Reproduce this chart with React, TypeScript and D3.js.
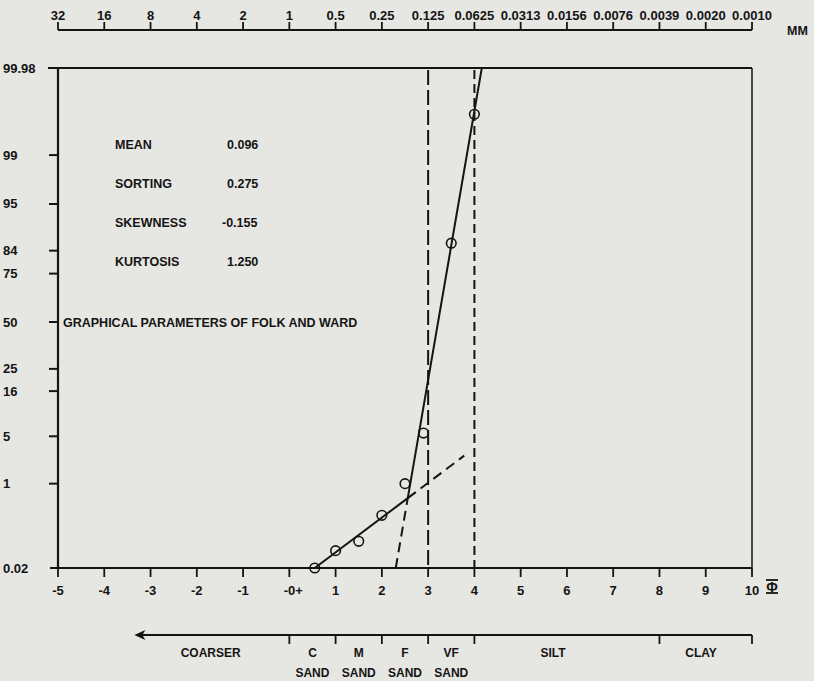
import React from 'react';
import * as d3 from 'd3';

// phi scale (bottom) and matching grain size in mm (top)
const phiTicks = [-5, -4, -3, -2, -1, 0, 1, 2, 3, 4, 5, 6, 7, 8, 9, 10];
const phiLabels = ['-5', '-4', '-3', '-2', '-1', '-0+', '1', '2', '3', '4', '5', '6', '7', '8', '9', '10'];
const mmLabels = ['32', '16', '8', '4', '2', '1', '0.5', '0.25', '0.125', '0.0625', '0.0313', '0.0156', '0.0076', '0.0039', '0.0020', '0.0010'];

// cumulative percent (probability scale)
const pctTicks = [0.02, 1, 5, 16, 25, 50, 75, 84, 95, 99, 99.98];
const pctLabels = ['0.02', '1', '5', '16', '25', '50', '75', '84', '95', '99', '99.98'];

// sample points
const samplePhi = [0.55, 1, 1.5, 2, 2.5, 2.9, 3.5, 4];
const samplePct = [0.02, 0.05, 0.08, 0.27, 1.0, 5.5, 86.4, 99.81];

// fitted lines (end points, phi / percent)
const fineLinePhi = [2.3, 4.16];
const fineLinePct = [0.02, 99.98];
const coarseLinePhi = [0.55, 3.78];
const coarseLinePct = [0.02, 2.72];

// dashed guide lines at phi
const guidePhi = [3, 4];

const statNames = ['MEAN', 'SORTING', 'SKEWNESS', 'KURTOSIS'];
const statValues = ['0.096', '0.275', '-0.155', '1.250'];

const classNames = ['COARSER', 'C', 'M', 'F', 'VF', 'SILT', 'CLAY'];
const classSub = ['', 'SAND', 'SAND', 'SAND', 'SAND', '', ''];
const classCenters = [-1.7, 0.5, 1.5, 2.5, 3.5, 5.7, 8.9];
const classBreaks = [0, 1, 2, 3, 4, 8, 10];
const arrowPhi = -3.35;

// inverse normal CDF (Acklam)
function probit(p: number): number {
  const a = [-3.969683028665376e1, 2.209460984245205e2, -2.759285104469687e2, 1.38357751867269e2, -3.066479806614716e1, 2.506628277459239];
  const b = [-5.447609879822406e1, 1.615858368580409e2, -1.556989798598866e2, 6.680131188771972e1, -1.328068155288572e1];
  const c = [-7.784894002430293e-3, -3.223964580411365e-1, -2.400758277161838, -2.549732539343734, 4.374664141464968, 2.938163982698783];
  const d = [7.784695709041462e-3, 3.224671290700398e-1, 2.445134137142996, 3.754408661907416];
  const plow = 0.02425;
  if (p < plow) {
    const q = Math.sqrt(-2 * Math.log(p));
    return (((((c[0] * q + c[1]) * q + c[2]) * q + c[3]) * q + c[4]) * q + c[5]) / ((((d[0] * q + d[1]) * q + d[2]) * q + d[3]) * q + 1);
  }
  if (p > 1 - plow) {
    const q = Math.sqrt(-2 * Math.log(1 - p));
    return -(((((c[0] * q + c[1]) * q + c[2]) * q + c[3]) * q + c[4]) * q + c[5]) / ((((d[0] * q + d[1]) * q + d[2]) * q + d[3]) * q + 1);
  }
  const q = p - 0.5;
  const r = q * q;
  return ((((((a[0] * r + a[1]) * r + a[2]) * r + a[3]) * r + a[4]) * r + a[5]) * q) / (((((b[0] * r + b[1]) * r + b[2]) * r + b[3]) * r + b[4]) * r + 1);
}

const FONT = "'Liberation Sans', Arial, sans-serif";
const INK = '#141414';
const BG = '#e6e6e2';

export default function App() {
  const W = 814;
  const H = 681;
  const left = 58;
  const right = 752;
  const top = 68;
  const bottom = 568;

  const x = d3.scaleLinear().domain([-5, 10]).range([left, right]);
  const z = d3.scaleLinear()
    .domain([probit(0.0002), 0, probit(0.9998)])
    .range([bottom, 322, top]);
  const y = (pct: number) => z(probit(pct / 100));

  const seg = d3.line();

  // end points of the fitted lines in screen space, and where they cross
  const f0: [number, number] = [x(fineLinePhi[0]), y(fineLinePct[0])];
  const f1: [number, number] = [x(fineLinePhi[1]), y(fineLinePct[1])];
  const c0: [number, number] = [x(coarseLinePhi[0]), y(coarseLinePct[0])];
  const c1: [number, number] = [x(coarseLinePhi[1]), y(coarseLinePct[1])];
  const det = (f1[0] - f0[0]) * (c1[1] - c0[1]) - (f1[1] - f0[1]) * (c1[0] - c0[0]);
  const t = ((c0[0] - f0[0]) * (c1[1] - c0[1]) - (c0[1] - f0[1]) * (c1[0] - c0[0])) / det;
  const cross: [number, number] = [f0[0] + t * (f1[0] - f0[0]), f0[1] + t * (f1[1] - f0[1])];

  const axisTop = 30;
  const barY = 635;
  const ax = x(arrowPhi);

  return (
    <svg width={W} height={H} style={{ position: 'absolute', left: 0, top: 0, background: BG }} fontFamily={FONT} fontWeight="bold" fill={INK}>
      <rect x={0} y={0} width={W} height={H} fill={BG} />

      {/* top mm axis */}
      <line x1={x(-5)} x2={x(10)} y1={axisTop} y2={axisTop} stroke={INK} strokeWidth={2} />
      {phiTicks.map((p, i) => (
        <g key={'mm' + i}>
          <line x1={x(p)} x2={x(p)} y1={axisTop - 8} y2={axisTop} stroke={INK} strokeWidth={1.8} />
          <text x={x(p)} y={20} textAnchor="middle" fontSize={13}>{mmLabels[i]}</text>
        </g>
      ))}
      <text x={787} y={35} fontSize={12.5}>MM</text>

      {/* frame */}
      <line x1={48} x2={right} y1={top} y2={top} stroke={INK} strokeWidth={2} />
      <line x1={left} x2={left} y1={top} y2={bottom} stroke={INK} strokeWidth={2.2} />
      <line x1={right} x2={right} y1={top} y2={bottom} stroke={INK} strokeWidth={1.5} />
      <line x1={50} x2={right} y1={bottom} y2={bottom} stroke={INK} strokeWidth={2.2} />

      {/* left percent axis */}
      {pctTicks.map((p, i) => (
        <g key={'pct' + i}>
          {p !== 99.98 && p !== 0.02 && (
            <line x1={49} x2={left} y1={y(p)} y2={y(p)} stroke={INK} strokeWidth={2} />
          )}
          <text x={3} y={y(p) + 4.5} fontSize={13}>{pctLabels[i]}</text>
        </g>
      ))}

      {/* bottom phi axis */}
      {phiTicks.map((p, i) => (
        <g key={'phi' + i}>
          <line x1={x(p)} x2={x(p)} y1={bottom} y2={bottom + 9} stroke={INK} strokeWidth={1.8} />
          <text x={x(p) + (p === 0 ? 4 : 0)} y={595} textAnchor="middle" fontSize={13}>{phiLabels[i]}</text>
        </g>
      ))}
      <text x={772} y={592} textAnchor="middle" fontSize={14}>Φ</text>
      <line x1={766} x2={778} y1={580} y2={580} stroke={INK} strokeWidth={1.8} />
      <line x1={766} x2={778} y1={593} y2={593} stroke={INK} strokeWidth={1.8} />

      {/* dashed guides */}
      {guidePhi.map((p, i) => (
        <line key={'g' + i} x1={x(p)} x2={x(p)} y1={top + 2} y2={bottom}
          stroke={INK} strokeWidth={2} strokeDasharray={i === 0 ? '15,5' : '9,5'} />
      ))}

      {/* fitted lines: solid where they describe the data, dashed beyond */}
      <path d={seg([c0, cross])!} fill="none" stroke={INK} strokeWidth={2} />
      <path d={seg([cross, c1])!} fill="none" stroke={INK} strokeWidth={2} strokeDasharray="10,6" />
      <path d={seg([cross, f1])!} fill="none" stroke={INK} strokeWidth={2} />
      <path d={seg([f0, cross])!} fill="none" stroke={INK} strokeWidth={2} strokeDasharray="10,6" />

      {/* sample points */}
      {samplePhi.map((p, i) => (
        <circle key={'s' + i} cx={x(p)} cy={y(samplePct[i])} r={4.8} fill="none" stroke={INK} strokeWidth={1.6} />
      ))}

      {/* statistics */}
      {statNames.map((s, i) => (
        <g key={'st' + i}>
          <text x={115} y={149 + i * 39} fontSize={12.5}>{s}</text>
          <text x={227 - (statValues[i].startsWith('-') ? 5 : 0)} y={149 + i * 39} fontSize={12.5}>{statValues[i]}</text>
        </g>
      ))}
      <text x={63} y={327} fontSize={12.5}>GRAPHICAL PARAMETERS OF FOLK AND WARD</text>

      {/* size classes */}
      <line x1={ax + 6} x2={x(10)} y1={barY} y2={barY} stroke={INK} strokeWidth={2} />
      <path d={`M${ax},${barY}L${ax + 11},${barY - 5}L${ax + 8},${barY}L${ax + 11},${barY + 5}Z`} fill={INK} />
      {classBreaks.map((p, i) => (
        <line key={'cb' + i} x1={x(p)} x2={x(p)} y1={barY} y2={barY + 9} stroke={INK} strokeWidth={1.8} />
      ))}
      {classNames.map((c, i) => (
        <g key={'cn' + i}>
          <text x={x(classCenters[i])} y={657} textAnchor="middle" fontSize={12}>{c}</text>
          {classSub[i] && <text x={x(classCenters[i])} y={677} textAnchor="middle" fontSize={12}>{classSub[i]}</text>}
        </g>
      ))}
    </svg>
  );
}
